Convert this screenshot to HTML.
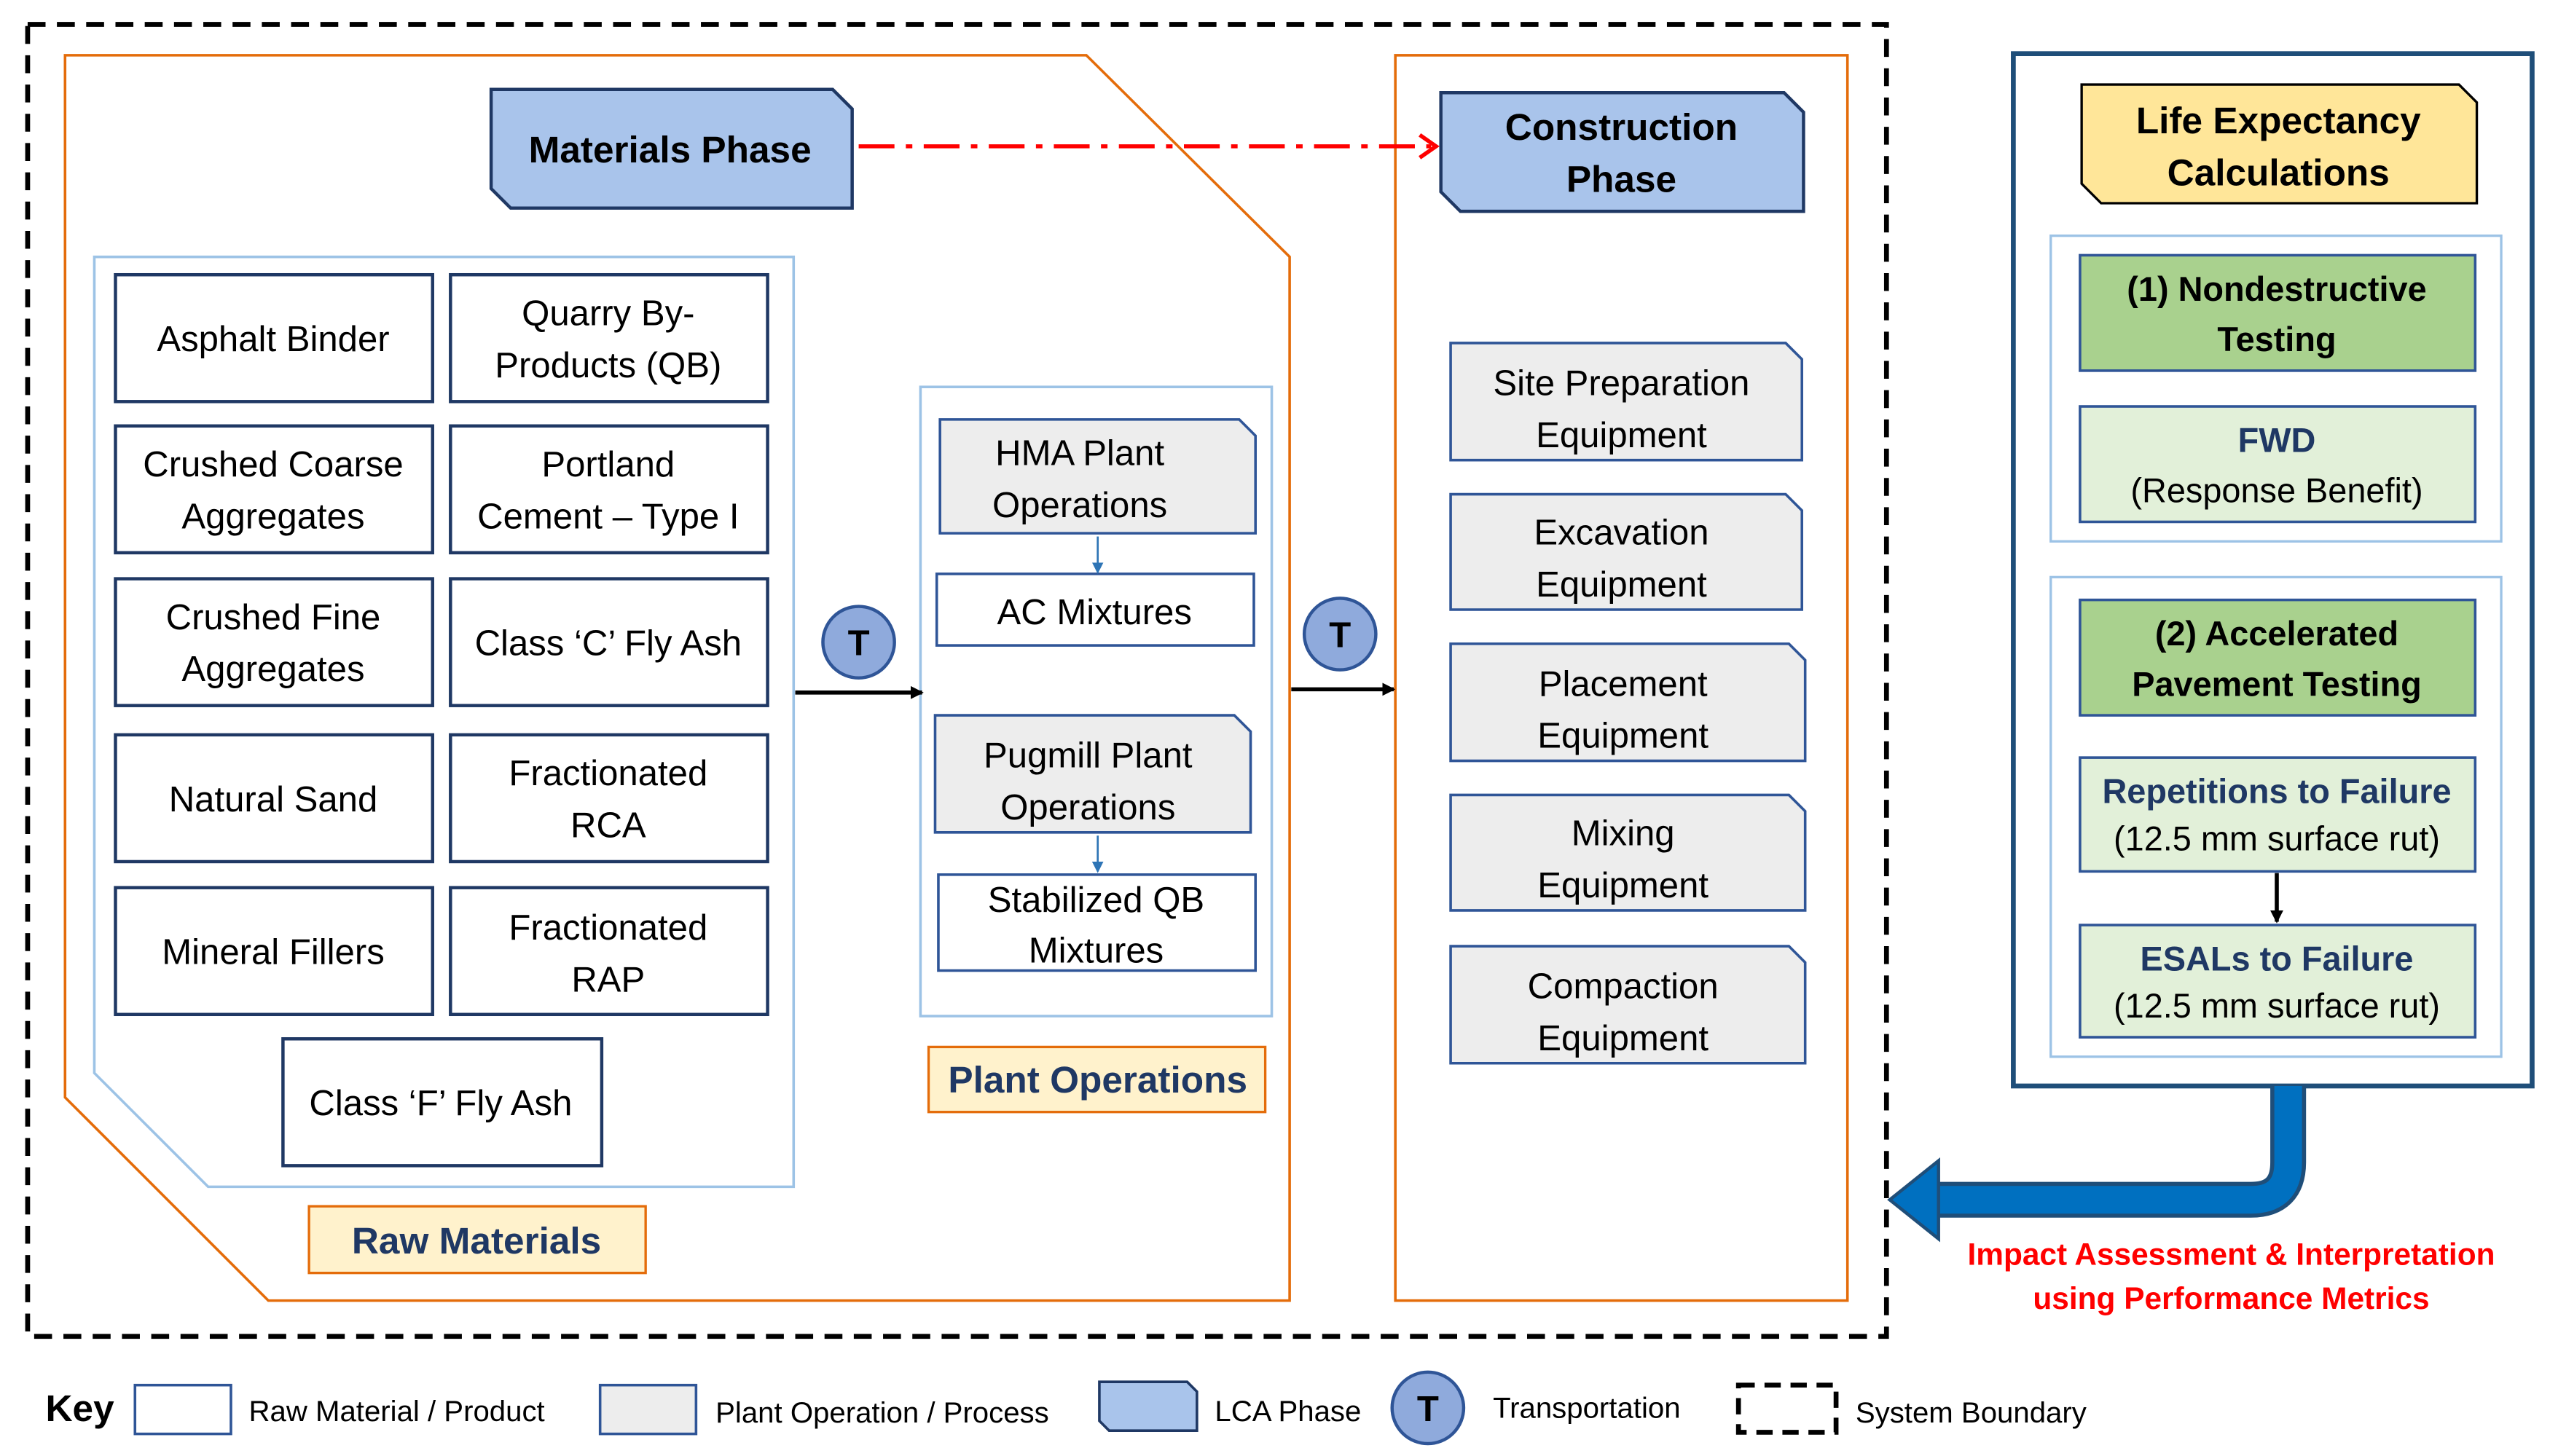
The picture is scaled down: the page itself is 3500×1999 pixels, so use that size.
<!DOCTYPE html>
<html><head><meta charset="utf-8"><style>
html,body{margin:0;padding:0;background:#fff;}
svg{display:block;}
text{font-family:"Liberation Sans",sans-serif;}
</style></head><body>
<svg width="3500" height="1999" viewBox="0 0 1568 895.6" preserveAspectRatio="none" xmlns="http://www.w3.org/2000/svg">
<defs>
<marker id="ah" markerWidth="8" markerHeight="8" refX="7" refY="4" orient="auto" markerUnits="userSpaceOnUse"><path d="M0,0 L8,4 L0,8 z" fill="#000"/></marker>
<marker id="ab" markerWidth="7" markerHeight="7" refX="6" refY="3.5" orient="auto" markerUnits="userSpaceOnUse"><path d="M0,0 L7,3.5 L0,7 z" fill="#2E75B6"/></marker>
</defs>
<rect x="0" y="0" width="1568" height="896" fill="#fff"/>
<!-- system boundary -->
<rect x="17" y="15" width="1143" height="807" fill="none" stroke="#000" stroke-width="3" stroke-dasharray="11,7"/>
<!-- materials outline -->
<polygon points="40,34 668,34 793,158 793,800 165,800 40,675" fill="none" stroke="#E46C0A" stroke-width="1.6"/>
<rect x="858" y="34" width="278" height="766" fill="none" stroke="#E46C0A" stroke-width="1.6"/>
<polygon points="58,158 488,158 488,730 128,730 58,660" fill="none" stroke="#9DC3E6" stroke-width="1.6"/>
<g fill="#fff" stroke="#1F3864" stroke-width="2">
<rect x="71" y="169" width="195" height="78"/><rect x="277" y="169" width="195" height="78"/>
<rect x="71" y="262" width="195" height="78"/><rect x="277" y="262" width="195" height="78"/>
<rect x="71" y="356" width="195" height="78"/><rect x="277" y="356" width="195" height="78"/>
<rect x="71" y="452" width="195" height="78"/><rect x="277" y="452" width="195" height="78"/>
<rect x="71" y="546" width="195" height="78"/><rect x="277" y="546" width="195" height="78"/>
<rect x="174" y="639" width="196" height="78"/>
</g>
<g font-size="22" fill="#000" text-anchor="middle">
<text x="168" y="216">Asphalt Binder</text>
<text x="374" y="200">Quarry By-</text><text x="374" y="232">Products (QB)</text>
<text x="168" y="293">Crushed Coarse</text><text x="168" y="325">Aggregates</text>
<text x="374" y="293">Portland</text><text x="374" y="325">Cement – Type I</text>
<text x="168" y="387">Crushed Fine</text><text x="168" y="419">Aggregates</text>
<text x="374" y="403">Class ‘C’ Fly Ash</text>
<text x="168" y="499">Natural Sand</text>
<text x="374" y="483">Fractionated</text><text x="374" y="515">RCA</text>
<text x="168" y="593">Mineral Fillers</text>
<text x="374" y="578">Fractionated</text><text x="374" y="610">RAP</text>
<text x="271" y="686">Class ‘F’ Fly Ash</text>
</g>
<rect x="190" y="742" width="207" height="41" fill="#FFF2CC" stroke="#E46C0A" stroke-width="1.5"/>
<text x="293" y="771" font-size="23" font-weight="bold" fill="#1F3864" text-anchor="middle">Raw Materials</text>
<!-- plant ops -->
<rect x="566" y="238" width="216" height="387" fill="none" stroke="#9DC3E6" stroke-width="1.6"/>
<g fill="#EDEDED" stroke="#2F5597" stroke-width="1.6">
<polygon points="578,258 762,258 772,268 772,328 578,328"/>
<polygon points="575,440 759,440 769,450 769,512 575,512"/>
</g>
<g fill="#fff" stroke="#2F5597" stroke-width="1.6">
<rect x="576" y="353" width="195" height="44"/>
<rect x="577" y="538" width="195" height="59"/>
</g>
<line x1="675" y1="330" x2="675" y2="352" stroke="#2E75B6" stroke-width="1.2" marker-end="url(#ab)"/>
<line x1="675" y1="514" x2="675" y2="536" stroke="#2E75B6" stroke-width="1.2" marker-end="url(#ab)"/>
<g font-size="22" fill="#000" text-anchor="middle">
<text x="664" y="286">HMA Plant</text><text x="664" y="318">Operations</text>
<text x="673" y="384">AC Mixtures</text>
<text x="669" y="472">Pugmill Plant</text><text x="669" y="504">Operations</text>
<text x="674" y="561">Stabilized QB</text><text x="674" y="592">Mixtures</text>
</g>
<rect x="571" y="644" width="207" height="40" fill="#FFF2CC" stroke="#E46C0A" stroke-width="1.5"/>
<text x="675" y="672" font-size="23" font-weight="bold" fill="#1F3864" text-anchor="middle">Plant Operations</text>
<!-- T circles & arrows -->
<line x1="489" y1="426" x2="567" y2="426" stroke="#000" stroke-width="2.5" marker-end="url(#ah)"/>
<line x1="794" y1="424" x2="857" y2="424" stroke="#000" stroke-width="2.5" marker-end="url(#ah)"/>
<g fill="#8FAADC" stroke="#2F5597" stroke-width="2">
<circle cx="528" cy="395" r="22"/><circle cx="824" cy="390" r="22"/>
</g>
<g font-size="22" font-weight="bold" fill="#000" text-anchor="middle">
<text x="528" y="403">T</text><text x="824" y="398">T</text>
</g>
<!-- phases -->
<g fill="#A9C4EB" stroke="#1F3864" stroke-width="2">
<polygon points="302,55 512,55 524,67 524,128 314,128 302,116"/>
<polygon points="886,57 1097,57 1109,69 1109,130 898,130 886,118"/>
</g>
<g font-size="23" font-weight="bold" fill="#000" text-anchor="middle">
<text x="412" y="100">Materials Phase</text>
<text x="997" y="86">Construction</text><text x="997" y="118">Phase</text>
</g>
<line x1="528" y1="90" x2="880" y2="90" stroke="#FF0000" stroke-width="2.5" stroke-dasharray="22,7,4,7"/>
<polyline points="873,83 883,90 873,97" fill="none" stroke="#FF0000" stroke-width="2.5"/>
<!-- equipment -->
<g fill="#EDEDED" stroke="#2F5597" stroke-width="1.6">
<polygon points="892,211 1098,211 1108,221 1108,283 892,283"/>
<polygon points="892,304 1098,304 1108,314 1108,375 892,375"/>
<polygon points="892,396 1100,396 1110,406 1110,468 892,468"/>
<polygon points="892,489 1100,489 1110,499 1110,560 892,560"/>
<polygon points="892,582 1100,582 1110,592 1110,654 892,654"/>
</g>
<g font-size="22" fill="#000" text-anchor="middle">
<text x="997" y="243">Site Preparation</text><text x="997" y="275">Equipment</text>
<text x="997" y="335">Excavation</text><text x="997" y="367">Equipment</text>
<text x="998" y="428">Placement</text><text x="998" y="460">Equipment</text>
<text x="998" y="520">Mixing</text><text x="998" y="552">Equipment</text>
<text x="998" y="614">Compaction</text><text x="998" y="646">Equipment</text>
</g>
<!-- right panel -->
<rect x="1238" y="33" width="319" height="635" fill="none" stroke="#1F4E79" stroke-width="3"/>
<polygon points="1280,52 1512,52 1523,63 1523,125 1292,125 1280,113" fill="#FFE699" stroke="#000" stroke-width="1.5"/>
<text x="1401" y="82" font-size="23" font-weight="bold" text-anchor="middle">Life Expectancy</text>
<text x="1401" y="114" font-size="23" font-weight="bold" text-anchor="middle">Calculations</text>
<rect x="1261" y="145" width="277" height="188" fill="none" stroke="#9DC3E6" stroke-width="1.5"/>
<rect x="1261" y="355" width="277" height="295" fill="none" stroke="#9DC3E6" stroke-width="1.5"/>
<g stroke="#2F5597" stroke-width="1.6">
<rect x="1279" y="157" width="243" height="71" fill="#A9D18E"/>
<rect x="1279" y="250" width="243" height="71" fill="#E2F0D9"/>
<rect x="1279" y="369" width="243" height="71" fill="#A9D18E"/>
<rect x="1279" y="466" width="243" height="70" fill="#E2F0D9"/>
<rect x="1279" y="569" width="243" height="69" fill="#E2F0D9"/>
</g>
<g text-anchor="middle" font-size="21">
<text x="1400" y="185" font-weight="bold">(1) Nondestructive</text><text x="1400" y="216" font-weight="bold">Testing</text>
<text x="1400" y="278" font-weight="bold" fill="#1F3864">FWD</text><text x="1400" y="309">(Response Benefit)</text>
<text x="1400" y="397" font-weight="bold">(2) Accelerated</text><text x="1400" y="428" font-weight="bold">Pavement Testing</text>
<text x="1400" y="494" font-weight="bold" fill="#1F3864">Repetitions to Failure</text><text x="1400" y="523">(12.5 mm surface rut)</text>
<text x="1400" y="597" font-weight="bold" fill="#1F3864">ESALs to Failure</text><text x="1400" y="626">(12.5 mm surface rut)</text>
</g>
<line x1="1400" y1="537" x2="1400" y2="567" stroke="#000" stroke-width="2.5" marker-end="url(#ah)"/>
<!-- big blue arrow -->
<path d="M1407,668 L1407,715 Q1407,738 1384,738 L1190,738" fill="none" stroke="#1F4E79" stroke-width="22"/>
<path d="M1407,668 L1407,715 Q1407,738 1384,738 L1188,738" fill="none" stroke="#0070C0" stroke-width="17"/>
<polygon points="1162,738 1192,714 1192,762" fill="#0070C0" stroke="#1F4E79" stroke-width="2"/>
<text x="1372" y="778" font-size="19" font-weight="bold" fill="#FF0000" text-anchor="middle">Impact Assessment &amp; Interpretation</text>
<text x="1372" y="805" font-size="19" font-weight="bold" fill="#FF0000" text-anchor="middle">using Performance Metrics</text>
<!-- key -->
<text x="28" y="874" font-size="23" font-weight="bold">Key</text>
<rect x="83" y="852" width="59" height="30" fill="#fff" stroke="#2F5597" stroke-width="1.6"/>
<text x="153" y="874" font-size="18">Raw Material / Product</text>
<rect x="369" y="852" width="59" height="30" fill="#EDEDED" stroke="#2F5597" stroke-width="1.6"/>
<text x="440" y="875" font-size="18">Plant Operation / Process</text>
<polygon points="676,850 730,850 736,856 736,880 682,880 676,874" fill="#A9C4EB" stroke="#1F3864" stroke-width="1.6"/>
<text x="747" y="874" font-size="18">LCA Phase</text>
<circle cx="878" cy="866" r="22" fill="#8FAADC" stroke="#2F5597" stroke-width="2"/>
<text x="878" y="874" font-size="22" font-weight="bold" text-anchor="middle">T</text>
<text x="918" y="872" font-size="18">Transportation</text>
<rect x="1069" y="852" width="60" height="29" fill="none" stroke="#000" stroke-width="3" stroke-dasharray="10,6"/>
<text x="1141" y="875" font-size="18">System Boundary</text>
</svg>
</body></html>
